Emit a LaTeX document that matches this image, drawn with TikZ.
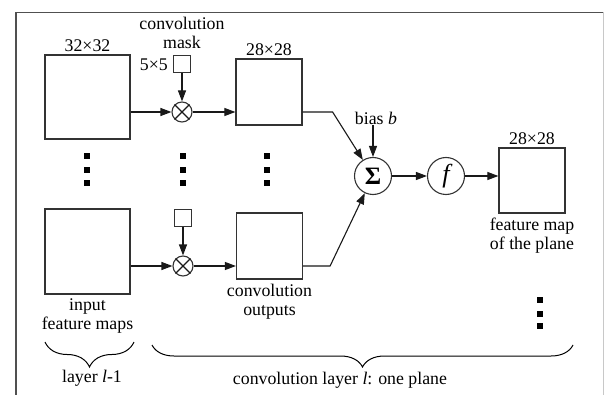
\documentclass[tikz,border=0pt]{standalone}
\usepackage{fontspec}
\setmainfont{Liberation Serif}
\usetikzlibrary{arrows.meta, positioning, decorations.pathreplacing}
\definecolor{framegray}{RGB}{80,80,80}
\definecolor{edgegray}{RGB}{200,200,200}

\begin{document}
\begin{tikzpicture}[x=1pt, y=-1pt,
    every node/.style={font=\fontsize{17.8}{19}\selectfont},
    fmap/.style={draw=black!80, line width=1.2pt, inner sep=0pt},
    maskbox/.style={draw=black!80, line width=1.1pt, minimum size=17pt, inner sep=0pt},
    opnode/.style={circle, draw=black!80, line width=1.1pt, inner sep=0pt},
    lbl/.style={inner sep=1pt, align=center},
    dotsq/.style={fill=black, minimum size=6pt, inner sep=0pt},
    arrow/.style={-{Triangle[length=11pt, width=8pt]}, line width=1.1pt, color=black!90},
    plain/.style={line width=1.1pt, color=black!90},
    brc/.style={decorate, decoration={brace, mirror, amplitude=#1}, line width=1pt}
  ]
  \useasboundingbox (0,0) rectangle (604,395);
  % --- Frame: left, top and right edges only ---
  \draw[framegray, line width=1.2pt] (16,395) -- (16,12.5) -- (603,12.5);
  \draw[edgegray, line width=1pt] (603,12.5) -- (603,395);

  \coordinate (row1) at (0,112);
  \coordinate (row2) at (0,266);

  % --- Row 1: input map, mask, convolution output ---
  \node[fmap, minimum width=85pt, minimum height=84pt] (in1) at (87.5,97) {};
  \node[opnode, minimum size=20pt] (ot1) at (182,112) {};
  \node[maskbox, above=28pt of ot1] (m1) {};
  \node[fmap, minimum size=66pt] (c1) at (269,92) {};
  \node[lbl, above=2pt of in1] (in1-size) {32×32};
  \node[lbl, left=4pt of m1] (m1-size) {5×5};
  \node[lbl, above=5pt of m1] (m1-name) {convolution\\mask};
  \node[lbl, above=2pt of c1] (c1-size) {28×28};

  % --- Row 2: same chain, lower plane ---
  \node[fmap, minimum size=85pt] (in2) at (87.5,251.5) {};
  \node[opnode, minimum size=20pt] (ot2) at (183,266) {};
  \node[maskbox, above=28pt of ot2] (m2) {};
  \node[fmap, minimum size=66pt] (c2) at (269.5,246) {};
  \node[lbl, below=3pt of in2] (in2-name) {input\\feature maps};
  \node[lbl, below=3pt of c2] (c2-name) {convolution\\outputs};

  % --- crosses inside the multiply nodes ---
  \foreach \o in {ot1,ot2}
    \draw[plain] (\o.north west) -- (\o.south east) (\o.north east) -- (\o.south west);

  % --- vertical dots between the rows ---
  \foreach \x/\n in {87/a,183/b,267/c}
    \foreach \y/\k in {156/1,170/2,183/3}
      \node[dotsq] (dot\n\k) at (\x,\y) {};
  \foreach \y/\k in {299.5/1,313.5/2,326/3}
    \node[dotsq] (dotd\k) at (539.5,\y) {};

  % --- Sum, activation and output plane ---
  \node[opnode, minimum size=37pt, font=\fontsize{25}{25}\selectfont\bfseries] (sum) at (373,176) {Σ};
  \node[opnode, minimum size=37pt, font=\fontsize{26}{26}\selectfont\itshape] (fn) at (446,176) {f};
  \node[lbl] (bias) at (376,118) {bias \textit{b}};
  \node[fmap, minimum width=66pt, minimum height=65pt] (fm) at (532,180.5) {};
  \node[lbl, above=2pt of fm] (fm-size) {28×28};
  \node[lbl, below=3pt of fm] (fm-name) {feature map\\of the plane};

  % --- Arrows ---
  \draw[arrow] (in1.east |- row1) -- (ot1);
  \draw[arrow] (m1) -- (ot1);
  \draw[arrow] (ot1) -- (c1.west |- ot1);
  \draw[arrow] (in2.east |- row2) -- (ot2);
  \draw[arrow] (m2) -- (ot2);
  \draw[arrow] (ot2) -- (c2.west |- ot2);
  \draw[arrow] (c1.east |- ot1) -- ++(30,0) -- (sum);
  \draw[arrow] (c2.east |- ot2) -- ++(27,0) -- (sum);
  \draw[arrow] (bias.south -| sum) -- (sum);
  \draw[arrow] (sum) -- (fn);
  \draw[arrow] (fn) -- (fm.west |- fn);

  % --- Braces and layer names ---
  \coordinate (brA1) at (45,342);
  \coordinate (brA2) at (134,342);
  \coordinate (brB1) at (152,345);
  \coordinate (brB2) at (573,345);
  \draw[brc=25pt] (brA1) -- (brA2);
  \draw[brc=22pt] (brB1) -- (brB2);
  \node[lbl] (lay-prev) at (92,378) {layer \textit{l}-1};
  \node[lbl] (lay-conv) at (340,380) {convolution layer \textit{l}: one plane};
\end{tikzpicture}
\end{document}
